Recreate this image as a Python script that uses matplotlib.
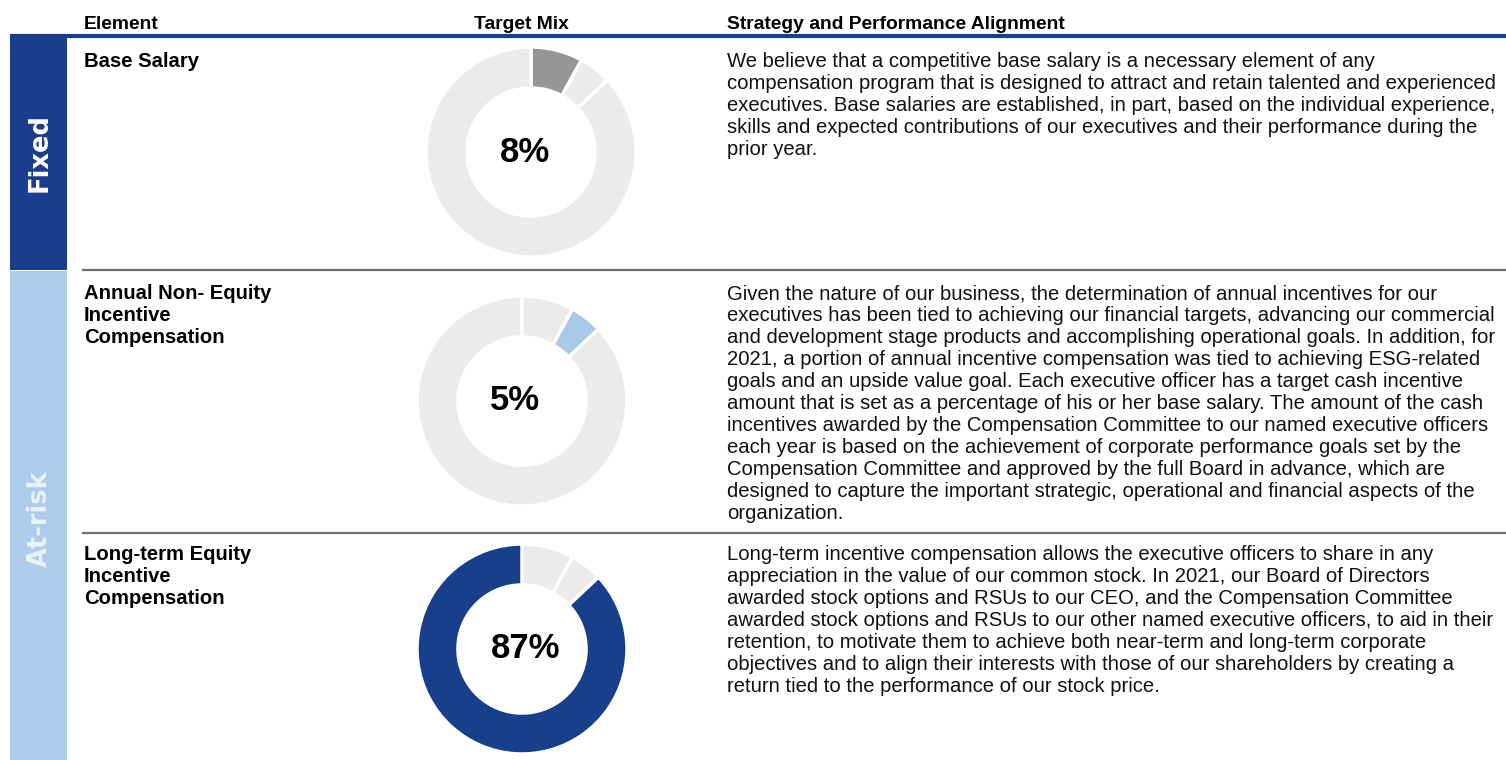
import matplotlib.pyplot as plt
from matplotlib.patches import Rectangle

plt.rcParams['font.family'] = ['Liberation Sans', 'DejaVu Sans']

# data
mix_values = [8, 5, 87]
mix_labels = ["8%", "5%", "87%"]
elements = ["Base Salary",
            "Annual Non- Equity\nIncentive\nCompensation",
            "Long-term Equity\nIncentive\nCompensation"]
highlight_colors = ["#969696", "#a9c9e8", "#173f8a"]
groups = ["Fixed", "At-risk"]
headers = ["Element", "Target Mix", "Strategy and Performance Alignment"]

descriptions = [
    "We believe that a competitive base salary is a necessary element of any\n"
    "compensation program that is designed to attract and retain talented and experienced\n"
    "executives. Base salaries are established, in part, based on the individual experience,\n"
    "skills and expected contributions of our executives and their performance during the\n"
    "prior year.",
    "Given the nature of our business, the determination of annual incentives for our\n"
    "executives has been tied to achieving our financial targets, advancing our commercial\n"
    "and development stage products and accomplishing operational goals. In addition, for\n"
    "2021, a portion of annual incentive compensation was tied to achieving ESG-related\n"
    "goals and an upside value goal. Each executive officer has a target cash incentive\n"
    "amount that is set as a percentage of his or her base salary. The amount of the cash\n"
    "incentives awarded by the Compensation Committee to our named executive officers\n"
    "each year is based on the achievement of corporate performance goals set by the\n"
    "Compensation Committee and approved by the full Board in advance, which are\n"
    "designed to capture the important strategic, operational and financial aspects of the\n"
    "organization.",
    "Long-term incentive compensation allows the executive officers to share in any\n"
    "appreciation in the value of our common stock. In 2021, our Board of Directors\n"
    "awarded stock options and RSUs to our CEO, and the Compensation Committee\n"
    "awarded stock options and RSUs to our other named executive officers, to aid in their\n"
    "retention, to motivate them to achieve both near-term and long-term corporate\n"
    "objectives and to align their interests with those of our shareholders by creating a\n"
    "return tied to the performance of our stock price.",
]

W, H = 1506, 760
NAVY = "#1a3d8c"
LIGHT = "#ebebeb"

fig = plt.figure(figsize=(W / 100, H / 100), dpi=100)
ax = fig.add_axes([0, 0, 1, 1])
ax.set_xlim(0, W)
ax.set_ylim(H, 0)
ax.axis('off')

# header
ax.text(84, 29, headers[0], fontsize=13.9, fontweight='bold', va='baseline')
ax.text(521, 29, headers[1], fontsize=13.9, fontweight='bold', va='baseline', ha='center')
ax.text(727, 29, headers[2], fontsize=13.9, fontweight='bold', va='baseline')
ax.plot([10, W], [35.5, 35.5], color=NAVY, lw=3, solid_capstyle='butt')

# left group bars
ax.add_patch(Rectangle((10, 37), 57, 233, color=NAVY, lw=0))
ax.add_patch(Rectangle((10, 271), 57, 489, color="#adcbea", lw=0))
ax.text(40, 153, groups[0], rotation=90, color='white', fontsize=18.5,
        fontweight='bold', ha='center', va='center', family='DejaVu Sans')
ax.text(40, 519, groups[1], rotation=90, color='white', fontsize=18.5, alpha=0.75,
        fontweight='bold', ha='center', va='center', family='DejaVu Sans')

# row separators
for y in [269.5, 532.5]:
    ax.plot([83, W], [y, y], color="#6e6e6e", lw=1.6)

row_tops = [52, 284, 545]
centers = [(531, 152), (522, 401), (522, 649)]
label_dx = [-6, -7, 4]
R = 105

for i in range(3):
    ax.text(84, row_tops[i], elements[i], fontsize=14.6, fontweight='bold',
            va='top', linespacing=1.2)
    ax.text(727, row_tops[i], descriptions[i], fontsize=14.6, color="#111111",
            va='top', linespacing=1.2)

    cx, cy = centers[i]
    dax = fig.add_axes([(cx - R) / W, 1 - (cy + R) / H, 2 * R / W, 2 * R / H])
    colors = [LIGHT, LIGHT, LIGHT]
    colors[i] = highlight_colors[i]
    dax.pie(mix_values, colors=colors, startangle=90, counterclock=False, radius=1,
            wedgeprops=dict(width=0.39, edgecolor='white', linewidth=2.5))
    dax.set_xlim(-1, 1)
    dax.set_ylim(-1, 1)
    dax.text(label_dx[i] / R, 0, mix_labels[i], fontsize=25, fontweight='bold',
             ha='center', va='center')

fig.savefig("out.png", dpi=100)
